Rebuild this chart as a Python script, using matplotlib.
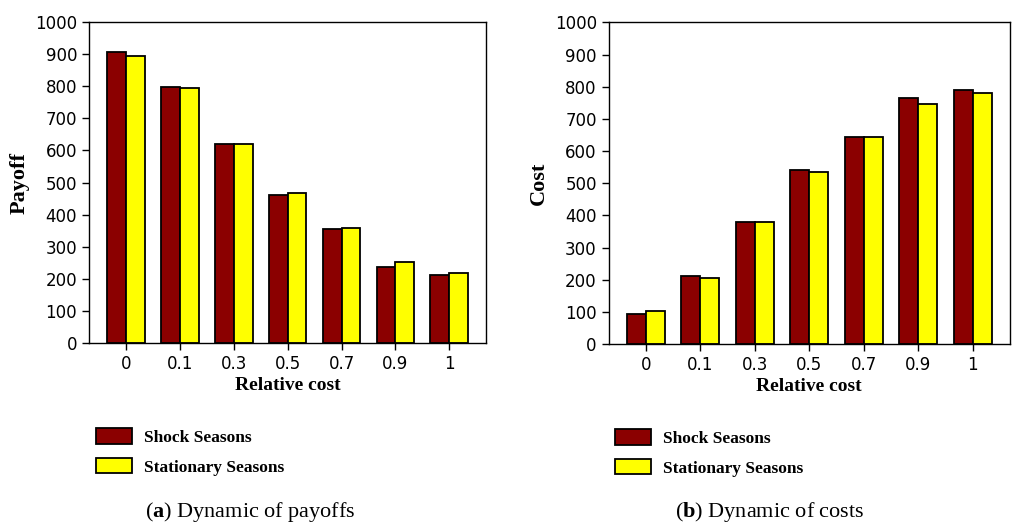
import matplotlib
matplotlib.use("Agg")
import matplotlib.pyplot as plt
import numpy as np

# relative cost categories
categories = ["0", "0.1", "0.3", "0.5", "0.7", "0.9", "1"]

# (a) payoffs
payoff_shock = [906, 796, 620, 461, 355, 236, 212]
payoff_stationary = [895, 794, 619, 467, 357, 254, 218]

# (b) costs
cost_shock = [94, 212, 381, 540, 645, 765, 789]
cost_stationary = [104, 207, 381, 534, 643, 746, 782]

series_labels = ["Shock Seasons", "Stationary Seasons"]
series_colors = ["#8b0000", "#ffff00"]

plt.rcParams["mathtext.fontset"] = "custom"
plt.rcParams["mathtext.rm"] = "Liberation Serif"
plt.rcParams["mathtext.bf"] = "Liberation Serif:bold"

SERIF = "Liberation Serif"


def draw_panel(fig, rect, shock, stationary, ylabel, legend_xy, caption, caption_xy):
    ax = fig.add_axes(rect)
    x = np.arange(len(categories))
    w = 0.35
    ax.bar(x - w / 2, shock, width=w, color=series_colors[0], edgecolor="black",
           linewidth=1.3, label=series_labels[0])
    ax.bar(x + w / 2, stationary, width=w, color=series_colors[1], edgecolor="black",
           linewidth=1.3, label=series_labels[1])
    ax.set_xticks(x)
    ax.set_xticklabels(categories)
    ax.set_ylim(0, 1000)
    ax.set_yticks(np.arange(0, 1001, 100))
    ax.tick_params(labelsize=12, length=5, width=1)
    for s in ax.spines.values():
        s.set_linewidth(1.0)
    ax.set_xlabel("Relative cost", family=SERIF, fontweight="bold", fontsize=14, labelpad=3)
    ax.set_ylabel(ylabel, family=SERIF, fontweight="bold", fontsize=16, labelpad=4)

    ax.legend(loc="upper left", bbox_to_anchor=legend_xy, bbox_transform=fig.transFigure,
              frameon=False, borderpad=0, borderaxespad=0, handlelength=2.1,
              handleheight=1.0, handletextpad=0.65, labelspacing=0.7,
              prop={"family": SERIF, "weight": "bold", "size": 12.5})

    fig.text(caption_xy[0], caption_xy[1], caption, family=SERIF, fontsize=16,
             va="center", ha="left")
    return ax


fig = plt.figure(figsize=(10.16, 5.23), dpi=100)

draw_panel(fig, [0.0876, 0.344, 0.391, 0.614], payoff_shock, payoff_stationary, "Payoff",
           (96 / 1016, 1 - 428 / 523), r"($\mathbf{a}$) Dynamic of payoffs", (145 / 1016, 1 - 512 / 523))
draw_panel(fig, [0.599, 0.342, 0.395, 0.615], cost_shock, cost_stationary, "Cost",
           (615 / 1016, 1 - 429 / 523), r"($\mathbf{b}$) Dynamic of costs", (675 / 1016, 1 - 512 / 523))

fig.savefig("out.png", dpi=100)
